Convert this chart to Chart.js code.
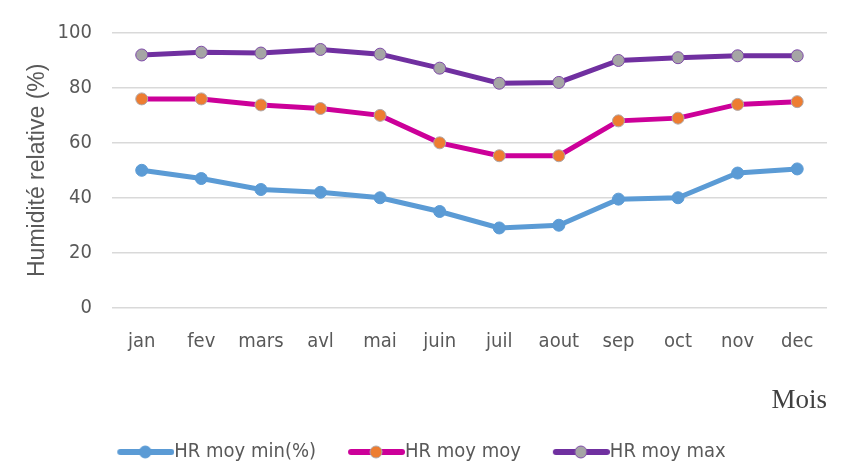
<!DOCTYPE html>
<html>
<head>
<meta charset="utf-8">
<script src="https://cdn.jsdelivr.net/npm/chart.js@4/dist/chart.umd.min.js"></script>
<style>
  html, body { margin: 0; padding: 0; background: #ffffff; }
  #wrap { width: 845px; height: 474px; position: relative; }
</style>
</head>
<body>
<div id="wrap"><canvas id="c" width="845" height="474"></canvas></div>
<script>
// Monthly relative humidity (%)
const months = ['jan', 'fev', 'mars', 'avl', 'mai', 'juin', 'juil', 'aout', 'sep', 'oct', 'nov', 'dec'];
const hrMin = [50, 47, 43, 42, 40, 35, 29, 30, 39.5, 40, 49, 50.5];
const hrMoy = [76, 76, 73.8, 72.5, 70, 60, 55.3, 55.3, 68, 69, 74, 75];
const hrMax = [92, 93, 92.7, 94, 92.3, 87.2, 81.7, 82, 90, 91, 91.7, 91.7];
const yTicks = [0, 20, 40, 60, 80, 100];

const seriesNames = ['HR moy min(%)', 'HR moy moy', 'HR moy max'];
const lineColors = ['#5b9bd5', '#cc0099', '#7030a0'];
const pointFills = ['#5b9bd5', '#ed7d31', '#a5a5a5'];
const pointBorders = ['#5b9bd5', '#b0a8a8', '#7e4aa8'];

const narrow = '"DejaVu Sans Condensed", "Liberation Sans Narrow", "Open Sans", sans-serif';

// Legend swatch: thick line with a marker in the middle, drawn at the
// right end of a wider transparent canvas so it sits against its label
function legendSwatch(i) {
  const cv = document.createElement('canvas');
  cv.width = 95; cv.height = 16;
  const g = cv.getContext('2d');
  g.strokeStyle = lineColors[i];
  g.lineWidth = 6;
  g.lineCap = 'round';
  g.beginPath(); g.moveTo(41, 8); g.lineTo(92, 8); g.stroke();
  g.beginPath(); g.arc(66, 8, 6, 0, Math.PI * 2);
  g.fillStyle = pointFills[i]; g.fill();
  g.lineWidth = 1; g.strokeStyle = pointBorders[i]; g.stroke();
  return cv;
}

// Nudge the legend row left to balance the transparent lead-in of the swatches
const legendShift = {
  id: 'legendShift',
  afterLayout(chart) {
    if (chart.legend) { chart.legend.left -= 16; chart.legend.right -= 16; }
  }
};

const values = [hrMin, hrMoy, hrMax];
const datasets = values.map((v, i) => ({
  label: seriesNames[i],
  data: v,
  borderColor: lineColors[i],
  backgroundColor: pointFills[i],
  borderWidth: 5,
  pointRadius: 6,
  pointHoverRadius: 6,
  pointBackgroundColor: pointFills[i],
  pointBorderColor: pointBorders[i],
  pointBorderWidth: 1,
  tension: 0,
  fill: false
}));

new Chart(document.getElementById('c'), {
  type: 'line',
  data: { labels: months, datasets },
  plugins: [legendShift],
  options: {
    responsive: false,
    animation: false,
    layout: { padding: { top: 33, right: 18, left: 20, bottom: 2 } },
    plugins: {
      tooltip: { enabled: false },
      legend: {
        position: 'bottom',
        labels: {
          usePointStyle: true,
          pointStyleWidth: 75,
          boxHeight: 16,
          padding: 4,
          color: '#595959',
          font: { family: narrow, size: 20 },
          generateLabels: (chart) => chart.data.datasets.map((d, i) => ({
            text: d.label,
            pointStyle: legendSwatch(i),
            fillStyle: pointFills[i],
            strokeStyle: lineColors[i],
            lineWidth: 0,
            fontColor: '#595959',
            hidden: false,
            datasetIndex: i
          }))
        }
      }
    },
    scales: {
      x: {
        offset: true,
        grid: { display: false, drawTicks: false },
        border: { display: false },
        ticks: {
          color: '#595959',
          padding: 22,
          font: { family: narrow, size: 20 }
        },
        title: {
          display: true,
          text: 'Mois',
          align: 'end',
          color: '#404040',
          padding: { top: 9, bottom: 21 },
          font: { family: '"Liberation Serif", "DejaVu Serif", serif', size: 27 }
        }
      },
      y: {
        min: 0,
        max: 100,
        afterBuildTicks: (axis) => { axis.ticks = yTicks.map(v => ({ value: v })); },
        grid: { color: '#d9d9d9', lineWidth: 1.5, drawTicks: false },
        border: { display: false },
        ticks: {
          color: '#595959',
          padding: 20,
          font: { family: narrow, size: 20 }
        },
        title: {
          display: true,
          text: 'Humidité relative (%)',
          color: '#595959',
          padding: { top: 4, bottom: -14 },
          font: { family: '"Liberation Sans", Arial, sans-serif', size: 23 }
        }
      }
    }
  }
});
</script>
</body>
</html>
